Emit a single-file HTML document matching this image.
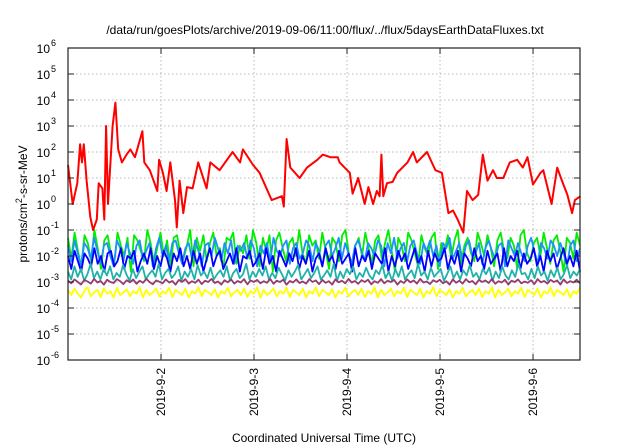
<!DOCTYPE html>
<html><head><meta charset="utf-8"><style>
body{margin:0;background:#fff;}
svg{display:block;font-family:"Liberation Sans",sans-serif;}
</style></head><body>
<svg id="chart" width="640" height="448" viewBox="0 0 640 448">
<text x="325" y="34" font-size="12" text-anchor="middle">/data/run/goesPlots/archive/2019-09-06/11:00/flux/../flux/5daysEarthDataFluxes.txt</text>
<text x="324" y="442" font-size="12" text-anchor="middle">Coordinated Universal Time (UTC)</text>
<text transform="translate(27,204) rotate(-90)" font-size="12" text-anchor="middle">protons/cm<tspan dy="-5" font-size="9">2</tspan><tspan dy="5">-s-sr-MeV</tspan></text>
<g id="grid"></g><g id="series"></g><g id="axes"></g>
</svg>
<script>
const decadeTicks=[-6,-5,-4,-3,-2,-1,0,1,2,3,4,5,6];
const dayTicks=[1,2,3,4,5];
const dayLabels=["2019-9-2","2019-9-3","2019-9-4","2019-9-5","2019-9-6"];
const redTimes=[0,0.05,0.10,0.13,0.15,0.17,0.20,0.24,0.27,0.31,0.33,0.37,0.39,0.41,0.43,0.48,0.51,0.54,0.58,0.63,0.67,0.72,0.80,0.82,0.88,0.96,0.98,1.02,1.06,1.10,1.15,1.17,1.20,1.24,1.28,1.34,1.40,1.49,1.53,1.63,1.77,1.85,1.88,1.99,2.06,2.19,2.30,2.32,2.35,2.39,2.49,2.57,2.68,2.74,2.82,2.90,2.92,3.03,3.06,3.12,3.19,3.23,3.28,3.32,3.35,3.37,3.39,3.43,3.49,3.54,3.65,3.71,3.75,3.86,3.95,4.02,4.09,4.14,4.19,4.25,4.29,4.35,4.41,4.46,4.51,4.57,4.61,4.68,4.75,4.83,4.89,4.94,5.00,5.08,5.11,5.20,5.26,5.31,5.37,5.42,5.45,5.51];
const redLog=[1.5,0,0.8,2.3,1.6,2.3,0.9,-0.5,-1,-0.6,0.8,0.6,-0.6,3.0,0,3,3.9,2.1,1.6,1.9,2.1,1.8,2.8,1.6,1.3,0.5,1.7,1.2,0.5,1.6,0.15,-0.9,0.9,-0.35,0.65,0.6,1.6,0.6,1.6,1.3,2.0,1.6,2.1,1.5,1.2,0.15,0.3,-0.1,2.5,1.4,1.0,1.4,1.7,1.9,1.8,1.8,1.6,1.2,0.4,1.0,0,0.65,0,0.5,0.3,1.9,0.3,0.8,0.85,1.2,1.6,2.0,1.6,2.0,1.3,1.2,-0.35,-0.25,-0.6,-1.1,0.5,0.15,0.35,1.9,0.9,1.3,1.0,1.0,1.6,1.7,1.4,1.8,0.75,1.2,1.3,0,1.4,0.9,0.35,-0.35,0.15,0.3];
const greenLog=[-1.3,-2.1,-1.1,-1.8,-2.4,-1.2,-1.5,-2.2,-1.0,-1.7,-2.5,-1.4,-1.2,-1.9,-2.3,-1.1,-1.6,-2.0,-1.3,-2.6,-1.2,-1.4,-1.8,-2.2,-1.0,-1.5,-2.3,-1.7,-1.1,-2.0,-1.4,-2.5,-1.3,-1.2,-1.9,-2.1,-1.6,-1.0,-2.4,-1.3,-1.8,-1.2,-2.2,-1.5,-1.1,-2.0,-1.7,-2.5,-1.3,-1.4,-1.1,-2.3,-1.6,-1.9,-1.2,-2.1,-1.0,-1.5,-2.4,-1.3,-1.8,-1.2,-2.6,-1.4,-1.1,-1.7,-2.2,-1.5,-1.3,-2.0,-1.0,-1.9,-2.3,-1.2,-1.6,-1.4,-2.1,-1.1,-1.8,-2.5,-1.3,-1.5,-2.2,-1.2,-1.0,-1.9,-2.4,-1.6,-1.3,-2.0,-1.1,-1.7,-2.3,-1.4,-1.2,-2.1,-1.5,-1.0,-1.8,-2.6,-1.3,-1.6,-2.2,-1.1,-1.4,-1.9,-2.4,-1.2,-1.7,-2.0,-1.3,-1.1,-2.5,-1.5,-1.8,-1.2,-2.1,-1.4,-1.0,-2.3,-1.6,-1.3,-1.9,-2.2,-1.1,-1.5,-2.0,-1.2,-1.7,-2.4,-1.4,-1.1,-1.8,-2.1,-1.3,-1.6,-2.5,-1.2,-1.0,-1.9,-2.2,-1.5,-1.3,-2.0,-1.1,-1.7,-2.3,-1.4,-1.2,-1.8,-2.6,-1.3,-1.5,-2.1,-1.1,-1.6];
const skyLog=[-1.6,-2.2,-1.4,-1.9,-2.4,-1.5,-1.7,-2.1,-1.3,-1.8,-2.3,-1.6,-1.5,-2.0,-2.4,-1.4,-1.7,-2.2,-1.5,-1.9,-2.3,-1.6,-1.4,-2.1,-1.8,-1.5,-2.4,-1.7,-1.3,-2.0,-1.6,-2.2,-1.5,-1.4,-1.9,-2.3,-1.7,-1.5,-2.1,-1.4,-1.8,-2.4,-1.6,-1.5,-2.0,-1.3,-1.7,-2.2,-1.5,-1.9,-1.4,-2.3,-1.6,-1.8,-1.5,-2.1,-1.4,-1.7,-2.4,-1.6,-1.9,-1.5,-2.2,-1.3,-1.8,-2.0,-1.6,-1.4,-2.3,-1.7,-1.5,-2.1,-1.9,-1.4,-1.6,-2.2,-1.5,-1.8,-2.4,-1.6,-1.4,-2.0,-1.7,-1.3,-2.1,-1.5,-1.9,-2.3,-1.6,-1.4,-1.8,-2.2,-1.5,-1.7,-2.0,-1.4,-1.6,-2.4,-1.5,-1.9,-1.3,-2.1,-1.7,-1.5,-2.2,-1.6,-1.4,-1.9,-2.3,-1.5,-1.8,-1.4,-2.0,-1.6,-2.4,-1.5,-1.7,-1.3,-2.1,-1.8,-1.5,-2.2,-1.6,-1.4,-2.0,-1.9,-1.5,-2.3,-1.7,-1.4,-1.8,-2.1,-1.6,-1.5,-2.4,-1.4,-1.7,-2.0,-1.5,-1.9,-2.2,-1.6,-1.3,-1.8,-2.3,-1.5,-1.7,-2.1,-1.4,-1.6,-2.0,-1.5,-1.9,-2.4,-1.6,-1.4,-2.2,-1.7];
const blueLog=[-2.0,-2.5,-1.8,-2.2,-2.6,-1.9,-2.1,-2.4,-1.7,-2.3,-2.0,-2.6,-1.9,-1.8,-2.4,-2.2,-1.7,-2.5,-2.0,-2.1,-1.8,-2.6,-2.2,-1.9,-2.3,-1.7,-2.5,-2.0,-2.4,-1.8,-2.1,-2.6,-1.9,-2.2,-1.7,-2.4,-2.0,-2.5,-1.8,-2.3,-1.9,-2.6,-2.1,-1.7,-2.4,-2.0,-1.8,-2.5,-2.2,-1.9,-2.3,-1.7,-2.6,-2.0,-2.1,-1.8,-2.4,-2.2,-1.9,-2.5,-1.7,-2.3,-2.0,-2.6,-1.8,-2.1,-2.4,-1.9,-2.2,-1.7,-2.5,-2.0,-2.3,-1.8,-2.6,-2.1,-1.9,-2.4,-1.7,-2.2,-2.0,-2.5,-1.8,-2.3,-2.1,-1.9,-2.6,-1.7,-2.4,-2.0,-2.2,-1.8,-2.5,-1.9,-2.1,-2.3,-1.7,-2.6,-2.0,-2.4,-1.8,-2.2,-1.9,-2.5,-2.1,-1.7,-2.3,-2.0,-2.6,-1.8,-2.4,-1.9,-2.2,-2.1,-1.7,-2.5,-2.0,-2.3,-1.8,-2.6,-1.9,-2.1,-2.4,-1.7,-2.2,-2.0,-2.5,-1.8,-2.3,-2.1,-1.9,-2.6,-1.7,-2.4,-2.0,-2.2,-1.8,-2.5,-1.9,-2.3,-2.1,-1.7,-2.4,-2.0,-2.6,-1.8,-2.2,-1.9,-2.5,-2.1,-1.7,-2.3,-2.0,-2.4,-1.8,-2.6];
const tealLog=[-2.6,-2.9,-2.4,-2.8,-2.5,-2.95,-2.7,-2.3,-2.85,-2.6,-2.9,-2.5,-2.75,-2.4,-2.9,-2.65,-2.8,-2.35,-2.7,-2.95,-2.5,-2.85,-2.6,-2.4,-2.9,-2.7,-2.55,-2.8,-2.3,-2.9,-2.65,-2.5,-2.85,-2.7,-2.4,-2.95,-2.6,-2.8,-2.5,-2.9,-2.35,-2.75,-2.6,-2.85,-2.45,-2.9,-2.7,-2.55,-2.8,-2.4,-2.95,-2.65,-2.5,-2.85,-2.7,-2.3,-2.9,-2.6,-2.8,-2.5,-2.75,-2.4,-2.9,-2.65,-2.85,-2.45,-2.7,-2.95,-2.55,-2.8,-2.6,-2.35,-2.9,-2.7,-2.5,-2.85,-2.65,-2.4,-2.9,-2.75,-2.55,-2.8,-2.3,-2.95,-2.6,-2.85,-2.5,-2.7,-2.4,-2.9,-2.65,-2.8,-2.45,-2.75,-2.9,-2.55,-2.7,-2.35,-2.85,-2.6,-2.95,-2.5,-2.8,-2.4,-2.9,-2.7,-2.55,-2.85,-2.3,-2.75,-2.6,-2.9,-2.45,-2.8,-2.65,-2.5,-2.95,-2.7,-2.4,-2.85,-2.6,-2.9,-2.55,-2.75,-2.35,-2.8,-2.65,-2.9,-2.5,-2.7,-2.45,-2.95,-2.6,-2.85,-2.4,-2.75,-2.9,-2.55,-2.8,-2.3,-2.7,-2.65,-2.9,-2.5,-2.85,-2.4,-2.75,-2.6,-2.95,-2.55,-2.8,-2.45,-2.9,-2.7,-2.35,-2.85,-2.6,-2.75,-2.5];
const purpleLog=[-2.95,-3.05,-2.9,-3.0,-3.1,-2.92,-2.98,-3.06,-2.88,-3.02,-2.96,-3.1,-2.91,-3.0,-3.04,-2.89,-2.97,-3.08,-2.93,-3.01,-2.9,-3.07,-2.95,-3.03,-2.88,-3.0,-3.09,-2.94,-2.99,-3.05,-2.9,-3.02,-2.96,-3.1,-2.92,-3.0,-2.89,-3.06,-2.97,-3.03,-2.91,-3.08,-2.95,-3.0,-2.88,-3.04,-2.98,-3.1,-2.93,-3.01,-2.9,-3.06,-2.96,-3.02,-2.89,-3.09,-2.94,-3.0,-2.92,-3.05,-2.97,-3.03,-2.88,-3.07,-2.95,-3.0,-2.91,-3.1,-2.96,-3.02,-2.9,-3.04,-2.98,-3.06,-2.89,-3.0,-2.94,-3.08,-2.92,-3.03,-2.97,-3.1,-2.9,-3.01,-2.95,-3.05,-2.88,-3.02,-2.96,-3.07,-2.93,-3.0,-2.91,-3.09,-2.97,-3.03,-2.89,-3.05,-2.95,-3.0,-2.92,-3.1,-2.96,-3.04,-2.9,-3.01,-2.94,-3.06,-2.88,-3.02,-2.98,-3.08,-2.93,-3.0,-2.91,-3.05,-2.97,-3.1,-2.9,-3.03,-2.95,-3.06,-2.89,-3.01,-2.96,-3.09,-2.92,-3.0,-2.94,-3.04,-2.88,-3.07,-2.97,-3.02,-2.91,-3.1,-2.95,-3.0,-2.9,-3.05,-2.98,-3.03,-2.93,-3.08,-2.89,-3.01,-2.96,-3.06,-2.92,-3.0,-2.94,-3.1,-2.9,-3.04,-2.97,-3.02,-2.91,-3.05];
const yellowLog=[-3.3,-3.5,-3.25,-3.45,-3.6,-3.35,-3.2,-3.55,-3.4,-3.3,-3.58,-3.25,-3.45,-3.35,-3.6,-3.22,-3.5,-3.4,-3.28,-3.55,-3.35,-3.45,-3.2,-3.6,-3.3,-3.5,-3.4,-3.25,-3.55,-3.35,-3.45,-3.22,-3.58,-3.3,-3.4,-3.5,-3.25,-3.6,-3.35,-3.45,-3.2,-3.55,-3.3,-3.4,-3.5,-3.28,-3.6,-3.35,-3.45,-3.22,-3.55,-3.4,-3.3,-3.5,-3.25,-3.58,-3.35,-3.45,-3.2,-3.6,-3.3,-3.5,-3.4,-3.25,-3.55,-3.35,-3.45,-3.22,-3.58,-3.3,-3.4,-3.5,-3.25,-3.6,-3.35,-3.45,-3.2,-3.55,-3.3,-3.4,-3.5,-3.28,-3.6,-3.35,-3.45,-3.22,-3.55,-3.4,-3.3,-3.5,-3.25,-3.58,-3.35,-3.45,-3.2,-3.6,-3.3,-3.5,-3.4,-3.25,-3.55,-3.35,-3.45,-3.22,-3.58,-3.3,-3.4,-3.5,-3.25,-3.6,-3.35,-3.45,-3.2,-3.55,-3.3,-3.4,-3.5,-3.28,-3.6,-3.35,-3.45,-3.22,-3.55,-3.4,-3.3,-3.5,-3.25,-3.58,-3.35,-3.45,-3.2,-3.6,-3.3,-3.5,-3.4,-3.25,-3.55,-3.35,-3.45,-3.22,-3.58,-3.3,-3.4,-3.5,-3.25,-3.6,-3.35,-3.45,-3.2,-3.55,-3.3,-3.4,-3.5,-3.28,-3.6,-3.35,-3.45,-3.22];
const L=68,R=580,T=48,B=360,DAYS=5.505;
const xs=d=>L+d*(R-L)/DAYS;
const ys=v=>B-(v+6)*(B-T)/12;
const NS="http://www.w3.org/2000/svg";
function mk(tag,attrs,parent){const e=document.createElementNS(NS,tag);for(const k in attrs)e.setAttribute(k,attrs[k]);parent.appendChild(e);return e;}
const grid=document.getElementById('grid'),axes=document.getElementById('axes'),ser=document.getElementById('series');
decadeTicks.forEach(v=>{
 if(v>-6&&v<6){const g=mk('line',{x1:L,x2:R,y1:ys(v),y2:ys(v),stroke:'#bbb','stroke-dasharray':'1.5,2.5','stroke-width':1},grid);
 
 }
 const t1=mk('line',{x1:L,x2:L+6,y1:ys(v),y2:ys(v),stroke:'#222'},axes);
 
 
 const t2=mk('line',{x1:R-6,x2:R,y1:ys(v),y2:ys(v),stroke:'#222'},axes);
 
 
 const tx=mk('text',{x:L-18,y:ys(v)+5,'font-size':12,'text-anchor':'end'},axes);
 
 
 tx.textContent='10';
 const sp=mk('tspan',{x:L-17,y:ys(v)-2,'font-size':9,'text-anchor':'start'},tx);sp.textContent=String(v);
});
dayTicks.forEach((d,i)=>{
 const g=mk('line',{x1:xs(d),x2:xs(d),y1:T,y2:B,stroke:'#bbb','stroke-dasharray':'1.5,2.5','stroke-width':1},grid);
 
 
 const t=mk('line',{x1:xs(d),x2:xs(d),y1:B-6,y2:B,stroke:'#222'},axes);
 
 
 const t2=mk('line',{x1:xs(d),x2:xs(d),y1:T,y2:T+6,stroke:'#222'},axes);
 
 
 const tx=mk('text',{transform:`translate(${xs(d)+4},${B+8}) rotate(-90)`,'font-size':12,'text-anchor':'end'},axes);
 
 
 tx.textContent=dayLabels[i];
});
const fr=mk('rect',{x:L,y:T,width:R-L,height:B-T,fill:'none',stroke:'#222','stroke-width':1.2},axes);


function series(vals,color,name,times,w){
 const n=vals.length;
 const pts=vals.map((v,i)=>{const d=times?times[i]:i*DAYS/(n-1);return xs(d).toFixed(1)+','+ys(v).toFixed(1);}).join(' ');
 const p=mk('polyline',{points:pts,fill:'none',stroke:color,'stroke-width':w||2,'stroke-linejoin':'round'},ser);
 
 
}
series(greenLog,'#00ee00','series-green',null,1.8);
series(skyLog,'#1e90ff','series-light-blue',null,1.8);
series(blueLog,'#0000ff','series-blue',null,1.8);
series(tealLog,'#20b2aa','series-teal',null,1.8);
series(yellowLog,'#ffff00','series-yellow',null,1.8);
series(purpleLog,'#943c6e','series-purple',null,1.8);
series(redLog,'#ff0000','series-red',redTimes,2);
</script>
</body></html>
